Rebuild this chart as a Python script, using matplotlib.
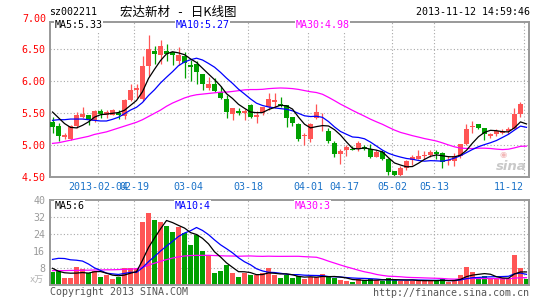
import matplotlib
matplotlib.use('Agg')
import matplotlib.pyplot as plt
import matplotlib.transforms as mtransforms
import numpy as np

# ---------------- data ----------------
opens = [5.37, 5.30, 5.13, 5.10, 5.30, 5.44, 5.47, 5.38, 5.53, 5.47,
         5.48, 5.50, 5.46, 5.71, 5.87, 5.73, 6.24, 6.48, 6.41, 6.48,
         6.46, 6.31, 6.39, 6.26, 6.27, 6.12, 5.89, 5.96, 5.84, 5.72,
         5.49, 5.54, 5.51, 5.63, 5.45, 5.50, 5.60, 5.68, 5.64, 5.63,
         5.44, 5.33, 5.14, 5.10, 5.43, 5.42, 5.23, 5.03, 4.87, 4.92,
         4.95, 4.94, 4.97, 4.95, 4.82, 4.90, 4.78, 4.60, 4.54, 4.65,
         4.77, 4.79, 4.83, 4.85, 4.89, 4.88, 4.75, 4.76, 4.83, 5.02,
         5.28, 5.34, 5.27, 5.14, 5.18, 5.20, 5.22, 5.26, 5.49, 5.06]
highs = [5.44, 5.35, 5.19, 5.31, 5.52, 5.60, 5.47, 5.55, 5.57, 5.55,
         5.57, 5.55, 5.72, 5.96, 5.96, 6.39, 6.72, 6.55, 6.65, 6.58,
         6.46, 6.53, 6.46, 6.34, 6.32, 6.12, 6.06, 6.05, 5.92, 5.79,
         5.59, 5.58, 5.57, 5.65, 5.53, 5.60, 5.81, 5.81, 5.76, 5.63,
         5.44, 5.35, 5.19, 5.35, 5.65, 5.50, 5.27, 5.06, 4.94, 5.01,
         4.99, 5.06, 5.01, 5.02, 4.92, 4.92, 4.80, 4.60, 4.68, 4.77,
         4.85, 4.93, 4.91, 4.92, 4.92, 4.90, 4.83, 4.88, 5.02, 5.33,
         5.38, 5.34, 5.27, 5.20, 5.25, 5.25, 5.28, 5.58, 5.68, 5.06]
lows = [5.20, 5.06, 5.10, 5.09, 5.27, 5.43, 5.32, 5.37, 5.42, 5.42,
        5.47, 5.41, 5.41, 5.70, 5.74, 5.70, 6.09, 6.27, 6.27, 6.31,
        6.26, 6.25, 6.05, 6.00, 5.96, 5.86, 5.87, 5.84, 5.73, 5.42,
        5.40, 5.48, 5.40, 5.43, 5.35, 5.48, 5.55, 5.59, 5.60, 5.29,
        5.30, 5.07, 5.00, 5.05, 5.41, 5.23, 5.03, 4.82, 4.71, 4.84,
        4.92, 4.91, 4.92, 4.80, 4.81, 4.77, 4.53, 4.51, 4.52, 4.62,
        4.69, 4.78, 4.78, 4.81, 4.79, 4.65, 4.69, 4.68, 4.80, 5.00,
        5.20, 5.25, 5.08, 5.12, 5.15, 5.17, 5.17, 5.25, 5.45, 5.06]
closes = [5.29, 5.14, 5.16, 5.30, 5.47, 5.49, 5.41, 5.53, 5.49, 5.52,
          5.55, 5.47, 5.71, 5.87, 5.90, 6.24, 6.50, 6.43, 6.55, 6.42,
          6.41, 6.41, 6.29, 6.22, 6.14, 5.96, 5.96, 5.85, 5.74, 5.52,
          5.59, 5.50, 5.54, 5.45, 5.47, 5.60, 5.73, 5.71, 5.62, 5.42,
          5.35, 5.10, 5.16, 5.33, 5.52, 5.43, 5.07, 4.87, 4.91, 4.98,
          4.93, 5.03, 4.95, 4.81, 4.90, 4.79, 4.58, 4.54, 4.65, 4.76,
          4.81, 4.84, 4.84, 4.89, 4.87, 4.74, 4.77, 4.83, 5.02, 5.25,
          5.30, 5.27, 5.17, 5.18, 5.22, 5.22, 5.26, 5.49, 5.64, 5.06]
volumes = [6.4, 6.9, 3.4, 3.4, 8.6, 7.7, 5.6, 6.6, 3.9, 4.7,
           3.1, 4.1, 8.3, 8.3, 8.3, 30.0, 34.0, 30.7, 29.8, 28.0,
           25.1, 27.3, 24.5, 19.1, 23.5, 16.1, 14.3, 5.9, 6.9, 9.6,
           5.6, 4.1, 5.6, 5.0, 4.7, 5.9, 8.0, 4.7, 3.4, 5.0,
           3.6, 4.2, 3.1, 4.1, 4.1, 5.3, 3.7, 3.6, 2.5, 2.2,
           1.6, 2.8, 2.5, 2.8, 2.5, 2.2, 3.4, 2.5, 2.2, 2.2,
           2.2, 2.2, 2.2, 2.2, 2.2, 2.8, 1.6, 2.5, 4.9, 8.6,
           6.4, 3.4, 4.2, 3.4, 2.8, 3.4, 2.8, 14.3, 8.1, 2.8]

# moving-average values before a full window is on the chart
ma5_head = [5.52, 5.43, 5.34, 5.28]
ma10_head = [5.39, 5.40, 5.40, 5.41, 5.41, 5.41, 5.40, 5.39, 5.38]
ma30_head = [5.03, 5.04, 5.06, 5.08, 5.10, 5.12, 5.14, 5.17, 5.19, 5.21,
             5.24, 5.27, 5.30, 5.33, 5.36, 5.40, 5.45, 5.50, 5.55, 5.61,
             5.66, 5.70, 5.74, 5.77, 5.79, 5.80, 5.81, 5.82, 5.83]
vma5_head = [8.0, 6.6, 5.9, 5.7]
vma10_head = [12.2, 12.7, 12.6, 12.0, 11.8, 11.4, 10.0, 8.2, 7.0]
vma30_head = [6.9, 6.9, 6.9, 7.0, 7.0, 7.1, 7.1, 7.2, 7.2, 7.3,
              7.3, 7.4, 7.5, 7.6, 7.8, 8.5, 9.5, 10.4, 11.3, 12.1,
              12.8, 13.4, 13.8, 14.0, 14.1, 14.1, 14.1, 14.0, 13.9]

date_idx = [8, 14, 23, 33, 43, 49, 57, 64, 79]
date_labels = ['2013-02-04', '02-19', '03-04', '03-18', '04-01', '04-17',
               '05-02', '05-13', '11-12']
price_ticks = [4.5, 5.0, 5.5, 6.0, 6.5]
vol_ticks = [8, 16, 24, 32, 40]

# ---------------- helpers ----------------
def moving_avg(vals, n, head):
    vals = np.asarray(vals, float)
    out = np.empty(len(vals))
    for i in range(len(vals)):
        out[i] = head[i] if i < n - 1 else vals[i - n + 1:i + 1].mean()
    return out

W, H = 545, 300
fig = plt.figure(figsize=(W / 100, H / 100), dpi=100)
MONO = 'DejaVu Sans Mono'
RED = '#ff5555'
GREEN = '#00a000'
GRID = '#a8a8a8'
BORDER = '#999999'
FS = 7.2

def px_axes(left, top, right, bottom):
    return fig.add_axes([left / W, 1 - bottom / H, (right - left) / W, (bottom - top) / H])

def ftext(x, y, s, **kw):
    fig.text(x / W, 1 - y / H, s, **kw)

n = len(closes)
xs = np.arange(n)
o = np.array(opens); c = np.array(closes); hi = np.array(highs); lo = np.array(lows)
up = c > o
cols = np.where(up, RED, GREEN)
XL = (-0.42, n - 1 + 0.42)
grid_x = np.array(date_idx) - 0.37

# ---------------- price panel ----------------
ax = px_axes(50, 21.6, 529, 177.3)
ax.set_xlim(*XL)
ax.set_ylim(4.5, 4.5 + (177.3 - 21.6) / 64)
for y in price_ticks[1:]:
    ax.axhline(y, color=GRID, lw=0.8, ls=(0, (1, 2)), zorder=0)
for gx in grid_x:
    ax.axvline(gx, color=GRID, lw=0.8, ls=(0, (1, 2)), zorder=0)

ax.vlines(xs, lo, hi, colors=cols, lw=0.9, zorder=2)
body_b = np.minimum(o, c)
body_h = np.maximum(np.abs(c - o), 0.012)
ax.bar(xs, body_h, bottom=body_b, width=0.78, color=cols, lw=0, zorder=3)

ax.plot(xs, moving_avg(closes, 30, ma30_head), color='#ff00ff', lw=0.9, zorder=4)
ax.plot(xs, moving_avg(closes, 10, ma10_head), color='#0000ff', lw=0.9, zorder=4)
ax.plot(xs, moving_avg(closes, 5, ma5_head), color='black', lw=0.9, zorder=5)

ax.set_xticks([])
ax.set_yticks(price_ticks)
ax.set_yticklabels(['%.2f' % t for t in price_ticks], color='#ff0000',
                   fontfamily=MONO, fontsize=FS)
ax.tick_params(axis='y', length=0, pad=3.5)
ftext(46, 19, '7.00', ha='right', va='center', color='#ff0000', fontfamily=MONO, fontsize=FS)
for sp in ax.spines.values():
    sp.set_color(BORDER); sp.set_linewidth(1.4)

tr_date = mtransforms.blended_transform_factory(ax.transData, fig.transFigure)
for k, (gx, lab) in enumerate(zip(grid_x, date_labels)):
    ha = 'right' if k == len(date_labels) - 1 else 'center'
    ax.text(gx, 1 - 186.5 / H, lab, transform=tr_date, ha=ha, va='center',
            color='#1a72c8', fontfamily=MONO, fontsize=FS, clip_on=False)

bb = dict(facecolor='white', edgecolor='none', pad=0.6)
ftext(54.5, 25.5, 'MA5:5.33', color='black', fontfamily=MONO, fontsize=FS, va='center', bbox=bb)
ftext(175.5, 25.5, 'MA10:5.27', color='#0000ff', fontfamily=MONO, fontsize=FS, va='center', bbox=bb)
ftext(295.5, 25.5, 'MA30:4.98', color='#ff00ff', fontfamily=MONO, fontsize=FS, va='center', bbox=bb)

# sina watermark
ftext(511, 166, 'sina', color='#c9c9c9', fontsize=9.5, fontweight='bold', fontstyle='italic',
      ha='center', va='center', fontfamily='DejaVu Sans')
ftext(503, 154.5, '◉', color='#f2b8b8', fontsize=6, ha='center', va='center', fontfamily='DejaVu Sans')

# ---------------- volume panel ----------------
axv = px_axes(50, 200.3, 529, 285.3)
axv.set_xlim(*XL)
axv.set_ylim(0, 40)
for y in vol_ticks[:-1]:
    axv.axhline(y, color=GRID, lw=0.8, ls=(0, (1, 2)), zorder=0)
for gx in grid_x:
    axv.axvline(gx, color=GRID, lw=0.8, ls=(0, (1, 2)), zorder=0)
axv.bar(xs, volumes, width=0.78, color=cols, lw=0, zorder=2)
axv.plot(xs, moving_avg(volumes, 30, vma30_head), color='#ff00ff', lw=0.9, zorder=3)
axv.plot(xs, moving_avg(volumes, 10, vma10_head), color='#0000ff', lw=0.9, zorder=3)
axv.plot(xs, moving_avg(volumes, 5, vma5_head), color='black', lw=0.9, zorder=4)
axv.set_xticks([])
axv.set_yticks(vol_ticks)
axv.set_yticklabels([str(t) for t in vol_ticks], color='#9a9a9a', fontfamily=MONO, fontsize=FS)
axv.tick_params(axis='y', length=0, pad=3.5)
for sp in axv.spines.values():
    sp.set_color(BORDER); sp.set_linewidth(1.4)

ftext(54.5, 206, 'MA5:6', color='black', fontfamily=MONO, fontsize=FS, va='center', bbox=bb)
ftext(174.5, 206, 'MA10:4', color='#0000ff', fontfamily=MONO, fontsize=FS, va='center', bbox=bb)
ftext(294.5, 206, 'MA30:3', color='#ff00ff', fontfamily=MONO, fontsize=FS, va='center', bbox=bb)
ftext(44, 279.5, 'x万', color='#b0b0b0', fontsize=6.3, ha='right', va='center',
      fontfamily=['DejaVu Sans Mono', 'Noto Sans CJK SC'])

# ---------------- header / footer ----------------
ftext(49.5, 12.2, 'sz002211', color='black', fontfamily=MONO, fontsize=FS, va='center')
ftext(120, 12.2, '宏达新材   -   日K线图', color='black', fontsize=9, va='center',
      fontfamily=['Noto Sans CJK SC', 'DejaVu Sans'])
ftext(530, 12.2, '2013-11-12 14:59:46', color='black', fontfamily=MONO, fontsize=FS,
      ha='right', va='center')
ftext(50, 292, 'Copyright 2013 SINA.COM', color='#555555', fontfamily=MONO, fontsize=FS, va='center')
ftext(529.5, 292.5, 'http://finance.sina.com.cn', color='#555555', fontfamily=MONO, fontsize=FS,
      ha='right', va='center')

fig.savefig('out.png', dpi=100, facecolor='white')
